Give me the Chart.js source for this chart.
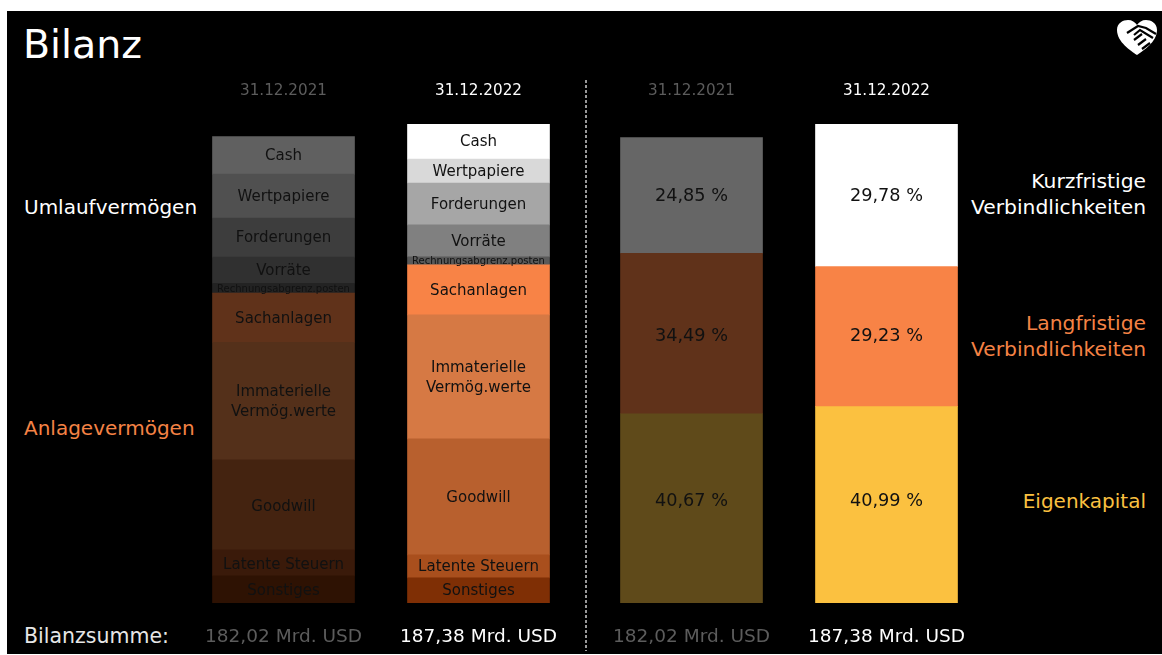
<!DOCTYPE html>
<html lang="de">
<head>
<meta charset="utf-8">
<title>Bilanz</title>
<script src="https://cdn.jsdelivr.net/npm/chart.js@4"></script>
<style>
  html, body { margin: 0; padding: 0; background: #fff; overflow: hidden; }
  #panel { position: absolute; left: 7px; top: 11px; width: 1155px; height: 643px; background: #000; }
  canvas { position: absolute; }
  .txt { position: absolute; font-family: "DejaVu Sans", sans-serif; font-size: 20px; line-height: 26px; white-space: nowrap; color: #fff; }
  .right { text-align: right; right: 16px; font-size: 20.3px; }
  #sep { position: absolute; left: 585px; top: 80px; width: 2px; height: 571px;
    background: repeating-linear-gradient(to bottom, #9a9a9a 0 3px, #000 3px 5px); }
  #logo { position: absolute; left: 1115px; top: 18px; }
</style>
</head>
<body>
<div id="panel"></div>
<div class="txt" style="left:23px;top:21px;font-size:39.5px;line-height:46px">Bilanz</div>
<div class="txt" style="left:24px;top:194px">Umlaufvermögen</div>
<div class="txt" style="left:24px;top:415px;color:#f58345">Anlagevermögen</div>
<div class="txt" style="left:24px;top:623px;color:#e6e6e6;font-size:20.5px">Bilanzsumme:</div>
<div class="txt right" style="top:168px">Kurzfristige<br>Verbindlichkeiten</div>
<div class="txt right" style="top:310px;color:#f58345">Langfristige<br>Verbindlichkeiten</div>
<div class="txt right" style="top:488px;color:#fbc140;font-size:20px">Eigenkapital</div>
<div id="sep"></div>
<svg id="logo" width="44" height="40" viewBox="0 0 44 40">
  <path d="M22 37 C16 33 2 24 2 12 C2 5 8 2 13 2 C17 2 20 4 22 7 C24 4 27 2 31 2 C36 2 42 5 42 12 C42 24 28 33 22 37 Z" fill="#fff"/>
  <path d="M12 15 L23 8 L31 10 L41 16 M19 17 L25 12 L38 20 M19 22 L27 16 M23 27 L31 21 M27 31 L35 25" fill="none" stroke="#000" stroke-width="2.2"/>
</svg>
<canvas id="left" width="390" height="583" style="left:186px;top:70px"></canvas>
<canvas id="right" width="390" height="583" style="left:593.5px;top:70px"></canvas>

<script>
const dates = ['31.12.2021', '31.12.2022'];
const totals = ['182,02 Mrd. USD', '187,38 Mrd. USD'];
const headColors = ['#5c5c5c', '#ffffff'];
const totalColors = ['#5c5c5c', '#ffffff'];

// Aktiva, Mrd. USD, von unten nach oben
const assetNames = ['Sonstiges', 'Latente Steuern', 'Goodwill', ['Immaterielle', 'Vermög.werte'], 'Sachanlagen',
  'Rechnungsabgrenz.posten', 'Vorräte', 'Forderungen', 'Wertpapiere', 'Cash'];
const sonstiges = [10.6, 9.8];
const latenteSteuern = [10.2, 9.0];
const goodwill = [35.2, 45.4];
const immaterielle = [46.0, 48.5];
const sachanlagen = [19.2, 19.6];
const rechnungsabgrenzung = [3.9, 3.1];
const vorraete = [10.2, 12.5];
const forderungen = [15.3, 16.4];
const wertpapiere = [17.2, 9.4];
const cash = [14.62, 14.08];
const assetColors = [
  ['#2e1203', '#7f2f05'], ['#3a1a0a', '#a94f1d'], ['#442310', '#b8602e'], ['#54301a', '#d67944'], ['#60321a', '#f88346'],
  ['#232323', '#595959'], ['#303030', '#808080'], ['#3d3d3d', '#a6a6a6'], ['#505050', '#d9d9d9'], ['#606060', '#ffffff']
];

// Passiva, Mrd. USD
const eigenkapital = [74.03, 76.81];
const langfristig = [62.78, 54.77];
const kurzfristig = [45.21, 55.80];
const eigenkapitalPct = ['40,67 %', '40,99 %'];
const langfristigPct = ['34,49 %', '29,23 %'];
const kurzfristigPct = ['24,85 %', '29,78 %'];
const liabilityColors = [['#5f4a1a', '#fbc140'], ['#60321a', '#f88346'], ['#666666', '#ffffff']];

const FONT = '"DejaVu Sans", sans-serif';

// schreibt die Beschriftung mittig in jedes Segment
const segmentLabels = {
  id: 'segmentLabels',
  afterDatasetsDraw(chart) {
    const ctx = chart.ctx;
    ctx.save();
    ctx.textAlign = 'center';
    ctx.textBaseline = 'middle';
    chart.data.datasets.forEach((ds, i) => {
      chart.getDatasetMeta(i).data.forEach((bar, j) => {
        const text = ds.texts ? ds.texts[j] : ds.label;
        const lines = Array.isArray(text) ? text : [text];
        const size = ds.textSize || 14;
        const lh = 20;
        const nudge = ds.nudge ? ds.nudge[j] : 0;
        const mid = (bar.y + bar.base) / 2 + nudge;
        ctx.font = size + 'px ' + FONT;
        ctx.fillStyle = '#111111';
        lines.forEach((l, k) => {
          ctx.fillText(l, bar.x, mid + (k - (lines.length - 1) / 2) * lh);
        });
      });
    });
    ctx.restore();
  }
};

const makeChart = (id, datasets) => new Chart(document.getElementById(id), {
  type: 'bar',
  data: { labels: dates, datasets: datasets },
  plugins: [segmentLabels],
  options: {
    responsive: false,
    animation: false,
    layout: { padding: 0 },
    plugins: { legend: { display: false }, tooltip: { enabled: false } },
    scales: {
      x: {
        position: 'top', stacked: true,
        grid: { display: false }, border: { display: false },
        afterFit: (s) => { s.height = 54; },
        ticks: { color: headColors, padding: 16, maxRotation: 0, font: { family: FONT, size: 15.2 } }
      },
      xTotals: {
        type: 'category', labels: totals, position: 'bottom',
        grid: { display: false }, border: { display: false },
        afterFit: (s) => { s.height = 50; },
        ticks: { color: totalColors, padding: 15, maxRotation: 0, font: { family: FONT, size: 18.5 } }
      },
      y: { display: false, stacked: true, min: 0, max: 187.38 }
    }
  }
});

const bar = (label, data, backgroundColor, extra) => Object.assign(
  { label, data, backgroundColor, borderWidth: 0, barThickness: 142 }, extra);

const assetData = [sonstiges, latenteSteuern, goodwill, immaterielle, sachanlagen,
  rechnungsabgrenzung, vorraete, forderungen, wertpapiere, cash];

makeChart('left', assetData.map((d, i) => bar(assetNames[i], d, assetColors[i],
  { texts: [assetNames[i], assetNames[i]], textSize: i === 5 ? 10 : 15, nudge: i < 3 ? [2, 1] : [1, 1] })));

makeChart('right', [
  bar('Eigenkapital', eigenkapital, liabilityColors[0], { texts: eigenkapitalPct, textSize: 17.7, nudge: [-7, -3.5] }),
  bar('Langfristige Verbindlichkeiten', langfristig, liabilityColors[1], { texts: langfristigPct, textSize: 17.7, nudge: [3, 0] }),
  bar('Kurzfristige Verbindlichkeiten', kurzfristig, liabilityColors[2], { texts: kurzfristigPct, textSize: 17.7, nudge: [1, 1] })
]);
</script>
</body>
</html>
